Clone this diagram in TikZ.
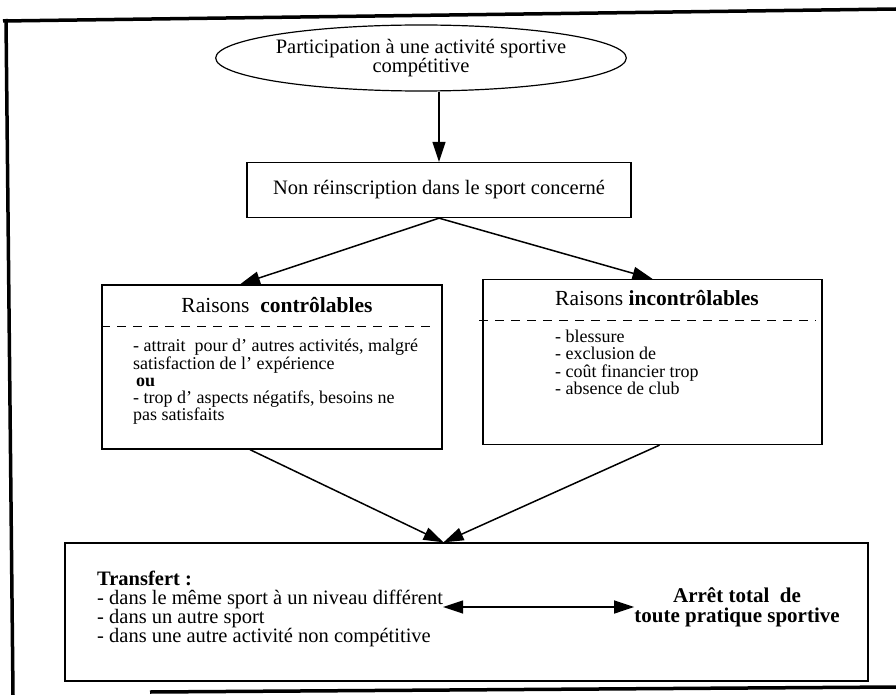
\documentclass[tikz,border=0pt]{standalone}
\usepackage{fontspec}
\setmainfont{Liberation Serif}
\usepackage{tikz}
\usetikzlibrary{shapes.geometric, positioning, arrows.meta}

\begin{document}
\begin{tikzpicture}[x=1pt, y=-1pt,
    >={Triangle[length=20pt, width=13pt]},
    frame/.style={line width=3.5pt},
    box/.style={draw, line width=1.3pt, inner sep=0pt},
    flow/.style={->, line width=1.5pt},
    sepline/.style={line width=1.2pt, dash pattern=on 9pt off 7pt},
    itemtext/.style={align=left, inner sep=0pt, font=\fontsize{18}{17.3}\selectfont},
    bigtext/.style={align=center, inner sep=0pt, font=\fontsize{20.5}{18.7}\selectfont}]
  \useasboundingbox (0,0) rectangle (896,695);
  % cadre
  \draw[frame] (3,21) -- (896,9);
  \draw[frame] (6,19) -- (13,695);
  \draw[frame] (150,692) -- (896,687);

  \node[draw, ellipse, line width=1.2pt, minimum width=368pt, minimum height=66pt, bigtext] (particip) at (421,58)
    {Participation à une activité sportive\\compétitive};
  \node[box, minimum width=384pt, minimum height=55pt, font=\fontsize{20.5}{20}\selectfont] (nonre) at (439,190)
    {Non réinscription dans le sport concerné};

  % raisons controlables
  \node[box, minimum width=340pt, minimum height=164pt] (ctrl) at (272,367) {};
  \node[font=\fontsize{21.5}{22}\selectfont] (ctrltitle) at (277,305) {Raisons~ \textbf{contrôlables}};
  \draw[sepline] ([yshift=-42pt]ctrl.north west) -- ([yshift=-42pt, xshift=-7pt]ctrl.north east);
  \node[itemtext, anchor=north west] (ctrlitems) at (133,339)
    {- attrait~ pour d’ autres activités, malgré\\
     satisfaction de l’ expérience\\
     \hspace*{3pt}\textbf{ou}\\
     - trop d’ aspects négatifs, besoins ne\\
     pas satisfaits};

  % raisons incontrolables
  \node[box, minimum width=339pt, minimum height=165pt] (incon) at (652.5,362) {};
  \node[font=\fontsize{21.5}{22}\selectfont] (incontitle) at (657,298) {Raisons \textbf{incontrôlables}};
  \draw[sepline] ([yshift=-42pt, xshift=-3pt]incon.north west) -- ([yshift=-42pt, xshift=-7pt]incon.north east);
  \node[itemtext, anchor=north west] (inconitems) at (555,330)
    {- blessure\\
     - exclusion de\\
     - coût financier trop\\
     - absence de club};

  % issue
  \node[box, minimum width=803pt, minimum height=138pt] (transfbox) at (466.5,612) {};
  \node[bigtext, align=left, anchor=west] (transf) at (97,609)
    {\textbf{Transfert :}\\
     - dans le même sport à un niveau différent\\
     - dans un autre sport\\
     - dans une autre activité non compétitive};
  \node[bigtext, font=\fontsize{21}{20}\selectfont\bfseries] (arret) at (737,607)
    {Arrêt total~ de\\toute pratique sportive};

  \draw[flow] (particip.south -| nonre.north) -- (nonre.north);
  \draw[flow] (nonre.south) -- ([xshift=-32pt]ctrl.north);
  \draw[flow] (nonre.south) -- (incon.north);
  \draw[flow] ([xshift=-22pt]ctrl.south) -- ([xshift=-23pt]transfbox.north);
  \draw[flow] ([xshift=7pt]incon.south) -- ([xshift=-23pt]transfbox.north);
  \draw[<->, line width=1.5pt] (transf.east |- arret.west) -- (arret.west);
\end{tikzpicture}
\end{document}
